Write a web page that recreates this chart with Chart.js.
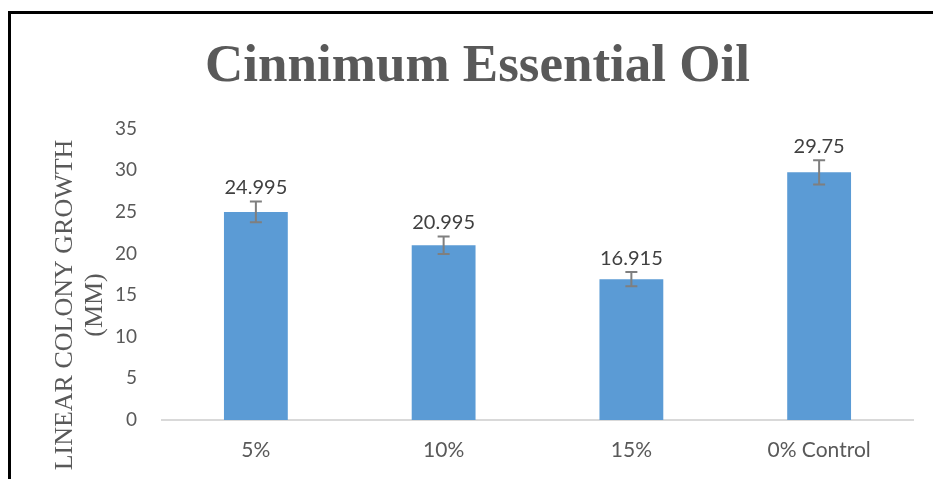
<!DOCTYPE html>
<html>
<head>
<meta charset="utf-8">
<script src="https://cdn.jsdelivr.net/npm/chart.js@4/dist/chart.umd.min.js"></script>
<style>
    html, body { margin: 0; padding: 0; background: #fff; overflow: hidden; }
    #wrap { position: relative; width: 933px; height: 479px; }
    #frame {
        position: absolute; left: 8px; top: 11px; right: -10px; bottom: -10px;
        border-left: 3px solid #000; border-top: 3px solid #000;
        pointer-events: none;
    }
    canvas { position: absolute; left: 0; top: 0; }
</style>
</head>
<body>
<div id="wrap">
    <canvas id="chart" width="933" height="479"></canvas>
    <div id="frame"></div>
</div>
<script>
document.addEventListener("DOMContentLoaded", () => {
    const categories = ["5%", "10%", "15%", "0% Control"];
    const growth = [24.995, 20.995, 16.915, 29.75];
    const errors = [1.25, 1.05, 0.85, 1.45];
    const yTicks = [0, 5, 10, 15, 20, 25, 30, 35];
    const yTitleLines = ["LINEAR COLONY GROWTH", "(MM)"];

    // Error bars and value labels drawn on top of the bars
    const barExtras = {
        id: "barExtras",
        afterDatasetsDraw(chart) {
            const ctx = chart.ctx;
            const yScale = chart.scales.y;
            const meta = chart.getDatasetMeta(0);
            ctx.save();
            meta.data.forEach((bar, i) => {
                const top = yScale.getPixelForValue(growth[i] + errors[i]);
                const bottom = yScale.getPixelForValue(growth[i] - errors[i]);
                ctx.strokeStyle = "#7f7f7f";
                ctx.lineWidth = 2;
                ctx.beginPath();
                ctx.moveTo(bar.x, top);
                ctx.lineTo(bar.x, bottom);
                ctx.moveTo(bar.x - 6, top);
                ctx.lineTo(bar.x + 6, top);
                ctx.moveTo(bar.x - 6, bottom);
                ctx.lineTo(bar.x + 6, bottom);
                ctx.stroke();

                ctx.fillStyle = "#404040";
                ctx.font = "20px Lato";
                ctx.textAlign = "center";
                ctx.textBaseline = "bottom";
                ctx.fillText(String(growth[i]), bar.x, top - 4);
            });
            ctx.restore();
        }
    };

    // Y axis title, two lines, placed like the original
    const yTitle = {
        id: "yTitle",
        afterDraw(chart) {
            const ctx = chart.ctx;
            ctx.save();
            ctx.fillStyle = "#595959";
            ctx.font = "26px 'Liberation Serif'";
            ctx.textAlign = "center";
            ctx.textBaseline = "alphabetic";
            yTitleLines.forEach((line, i) => {
                ctx.save();
                ctx.translate(72 + i * 30, 305);
                ctx.rotate(-Math.PI / 2);
                ctx.fillText(line, 0, 0);
                ctx.restore();
            });
            ctx.restore();
        }
    };

    new Chart(document.getElementById("chart").getContext("2d"), {
        type: "bar",
        data: {
            labels: categories,
            datasets: [{
                label: "Linear colony growth",
                data: growth,
                backgroundColor: "#5b9bd5",
                borderWidth: 0,
                categoryPercentage: 1,
                barPercentage: 0.34
            }]
        },
        options: {
            responsive: false,
            animation: false,
            layout: { padding: { left: 42, right: 20, top: 0, bottom: 0 } },
            plugins: {
                legend: { display: false },
                tooltip: { enabled: false },
                title: {
                    display: true,
                    text: "Cinnimum Essential Oil",
                    color: "#595959",
                    font: { family: "'Liberation Serif'", size: 53, weight: "bold", lineHeight: 1.2 },
                    padding: { top: 36, bottom: 29 }
                }
            },
            scales: {
                x: {
                    grid: { display: false, drawTicks: false },
                    border: { display: true, color: "#d9d9d9", width: 2 },
                    ticks: { color: "#595959", font: { family: "Lato", size: 21 }, padding: 18 },
                    afterFit: (scale) => { scale.height = 59; }
                },
                y: {
                    min: 0,
                    max: 35,
                    afterBuildTicks: (scale) => { scale.ticks = yTicks.map(v => ({ value: v })); },
                    grid: { display: false, drawTicks: false },
                    border: { display: false },
                    ticks: { color: "#595959", font: { family: "Lato", size: 19 }, padding: 25 },
                    afterFit: (scale) => { scale.width = 120; }
                }
            }
        },
        plugins: [barExtras, yTitle]
    });
});
</script>
</body>
</html>
